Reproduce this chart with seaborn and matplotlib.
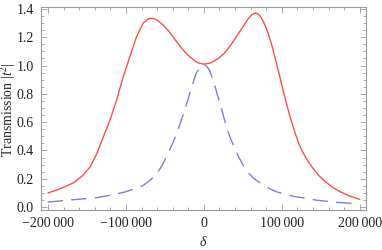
import numpy as np
import pandas as pd
import matplotlib
matplotlib.use("Agg")
import matplotlib.pyplot as plt
import seaborn as sns
from matplotlib.ticker import FuncFormatter, MultipleLocator

# Data (detuning delta, transmission)
red_delta = [-200000, -184000, -167000, -155000, -146000, -137400, -129000, -120500,
             -112000, -103500, -95000, -86400, -78000, -73500, -69500, -65000,
             -60000, -53000, -46100, -39700, -33400, -27000, -20600, -15000,
             -10000, -5000, 0, 5000, 9000, 13400, 19500, 26100, 32500, 38900,
             45000, 51600, 56000, 60200, 63500, 66500, 70800, 75000, 79300, 83500,
             87700, 92000, 96300, 100500, 104800, 109000, 113200, 117500, 121800,
             126000, 130300, 134500, 138700, 147300, 156000, 165000, 175000,
             187000, 200000]
red_T = [0.099, 0.130, 0.172, 0.225, 0.283, 0.378, 0.496, 0.614,
         0.756, 0.921, 1.062, 1.204, 1.299, 1.322, 1.334, 1.333,
         1.322, 1.290, 1.251, 1.205, 1.157, 1.113, 1.074, 1.048,
         1.027, 1.015, 1.010, 1.014, 1.020, 1.032, 1.055, 1.086, 1.130, 1.180,
         1.232, 1.286, 1.325, 1.352, 1.366, 1.372, 1.360, 1.325, 1.275, 1.210,
         1.133, 1.040, 0.945, 0.850, 0.756, 0.670, 0.590, 0.515, 0.449,
         0.397, 0.354, 0.316, 0.283, 0.224, 0.178, 0.140, 0.108,
         0.078, 0.054]

blue_delta = [-200400, -167000, -137500, -116300, -101400, -88600, -78000, -71700,
              -65000, -58900, -52500, -46100, -39700, -33400, -27000, -20600, -15000,
              -10000, -5000, 0, 3500, 7000, 13400, 17500, 21900, 26000, 30400, 34500,
              38900, 45000, 51600, 58000, 64400, 71000, 77100, 85000, 94100, 102600,
              114500, 123900, 135000, 145100, 157000, 170600, 185000, 199500]
blue_T = [0.035, 0.052, 0.066, 0.088, 0.106, 0.130, 0.152, 0.177,
          0.210, 0.248, 0.305, 0.378, 0.455, 0.543, 0.645, 0.756, 0.860,
          0.945, 0.990, 1.005, 0.995, 0.970, 0.870, 0.790, 0.709, 0.625, 0.543, 0.480,
          0.425, 0.350, 0.284, 0.236, 0.201, 0.175, 0.154, 0.128, 0.106, 0.094,
          0.076, 0.068, 0.057, 0.048, 0.041, 0.033, 0.028, 0.024]

sns.set_style("ticks")
plt.rcParams['font.family'] = ['Liberation Serif', 'DejaVu Serif']
plt.rcParams['mathtext.fontset'] = 'custom'
plt.rcParams['mathtext.rm'] = 'Liberation Serif'
plt.rcParams['mathtext.it'] = 'Liberation Serif:italic'

fig = plt.figure(figsize=(3.82, 2.5), dpi=100)
ax = fig.add_axes([41/382, 1-210/250, (366-41)/382, (210-7)/250])

df_r = pd.DataFrame({'delta': red_delta, 'T': red_T})
df_b = pd.DataFrame({'delta': blue_delta, 'T': blue_T})

sns.lineplot(data=df_r, x='delta', y='T', ax=ax, color='#ff4c4c', lw=1.0)
sns.lineplot(data=df_b, x='delta', y='T', ax=ax, color='#7f7fcc', lw=1.0)
ax.lines[-1].set_dashes([11, 6])

ax.set_xlim(-209000, 208000)
ax.set_ylim(-0.021, 1.414)

def fmt(v, pos):
    v = int(round(v))
    s = f"{abs(v):,}".replace(",", "\u2009")
    return ("\u2212" + s) if v < 0 else s

ax.xaxis.set_major_locator(MultipleLocator(100000))
ax.xaxis.set_minor_locator(MultipleLocator(20000))
ax.xaxis.set_major_formatter(FuncFormatter(fmt))
ax.yaxis.set_major_locator(MultipleLocator(0.2))
ax.yaxis.set_minor_locator(MultipleLocator(0.05))
ax.yaxis.set_major_formatter(FuncFormatter(lambda v, p: f"{v:.1f}"))

for s in ax.spines.values():
    s.set_color('#999999')
    s.set_linewidth(0.8)
ax.tick_params(which='both', direction='in', top=True, right=True,
               color='#999999', width=0.6, labelsize=10, labelcolor='#222222')
ax.tick_params(which='major', length=4, pad=5)
ax.tick_params(which='minor', length=2)

ax.set_xlabel(r'$\delta$', fontsize=10, labelpad=4)
ax.set_ylabel('')
fig.text(8.5/382, 1 - 110/250, r'Transmission $|t^2|$', fontsize=10,
         rotation=90, ha='center', va='center')

fig.savefig('out.png', dpi=100)
